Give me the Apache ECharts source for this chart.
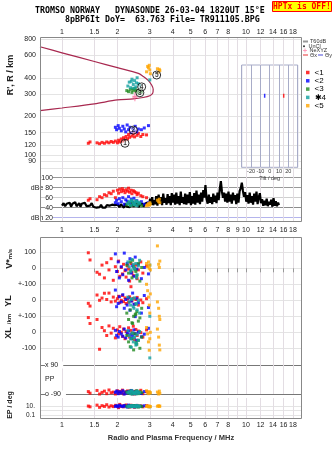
<!DOCTYPE html>
<html><head><meta charset="utf-8">
<script src="https://cdn.jsdelivr.net/npm/echarts@6/dist/echarts.min.js"></script>
<style>html,body{margin:0;padding:0;background:#fff}#c{width:335px;height:451px}</style>
</head><body><div id="c"></div><script>
// ---------- axes / ticks ----------
const FMIN = 0.7593, FMAX = 20.15;
const freqTicks = [1,1.5,2,3,4,5,6,7,8,9,10,12,14,16,18];
const freqLabelsTop = [1,1.5,2,3,4,5,6,7,8,10,12,14,16,18];
const freqLabelsMid = [1,1.5,2,3,4,5,6,7,8,9,10,12,14,16,18];
const freqLabelsBottom = [1,1.5,2,3,4,5,6,7,8,10,12,14,16,18];
const heightTicks = [80,90,100,120,150,200,300,400,600,800];
const dbTicks = [20,40,60,80,100];
const dbTickLabels = ['dBn 20','40','60','dBe 80','100'];
const classNames = ['<1','<2','<3','\u27314','<5'];
const classColors = ['#ff0000','#0000ff','#208a20','#12a0a0','#ffa500'];

// ---------- model profile (R vs f) ----------
const profFreq = [0.759,1.0,1.5,2.0,2.6,2.76,2.95,3.07,3.13,3.11,3.0,2.76,2.44,2.0,1.5,1.0,0.759];
const profHeight = [697,625,535,479,433,410,380,351,326,303,290,281,274,269,251,233,222];

// ---------- T60dB noise trace ----------
const t60Freq = [
1.00,1.02,1.04,1.06,1.08,1.10,1.12,1.14,1.16,1.18,1.20,1.22,1.24,1.26,1.28,1.30,1.33,1.36,1.39,1.42,1.45,1.48,
1.51,1.54,1.57,1.60,1.63,1.66,1.69,1.72,1.75,1.78,1.81,1.84,1.87,1.90,1.93,
1.97,2.01,2.05,2.09,2.13,2.17,2.21,2.25,2.29,2.33,2.37,2.41,2.45,2.49,2.53,2.57,2.61,2.65,2.69,2.73,2.77,2.81,2.85,2.89,
2.93,2.97,3.01,3.05,3.09,3.13,3.17,3.21,3.25,3.30,3.35,3.40,3.45,3.50,3.55,3.60,3.65,3.70,3.75,3.80,3.85,3.90,3.95,4.00,
4.06,4.12,4.18,4.24,4.30,4.36,4.42,4.48,4.54,4.60,4.67,4.74,4.81,4.88,4.95,5.02,5.09,5.16,5.23,5.30,5.38,5.46,5.54,5.62,5.70,5.78,5.86,5.94,6.02,
6.10,6.19,6.28,6.37,6.46,6.55,6.64,6.73,6.82,6.91,7.00,7.10,7.20,7.30,7.40,7.50,7.60,7.70,
7.81,7.92,8.03,8.14,8.25,8.37,8.49,8.61,8.73,8.85,8.97,9.10,9.23,9.36,9.49,9.62,9.75,9.89,10.03,
10.17,10.32,10.47,10.62,10.77,10.92,11.08,11.24,11.40,11.56,11.72,11.89,12.06,
12.23,12.41,12.59,12.77,12.95,13.14,13.33,13.52,13.71,13.91,14.11,14.31,14.52,14.73,14.94,15.10];
const t60Db = [
44,49,43,48,45,50,42,48,44,51,43,47,49,42,48,45,50,43,47,44,49,42,
45,40,44,41,46,40,43,40,45,41,44,40,46,42,45,
42,46,41,47,43,40,48,42,46,41,45,48,42,47,43,49,41,46,43,48,42,47,44,50,
52,44,58,46,61,45,55,47,63,44,66,48,61,45,68,50,59,46,67,49,63,45,69,50,
66,46,70,48,63,45,72,50,61,47,68,46,66,49,71,45,63,48,69,46,74,50,66,47,70,52,75,60,85,
58,48,66,50,61,47,68,52,64,49,70,55,77,93,72,60,70,52,
68,50,72,52,66,48,70,55,65,47,68,50,73,79,90,74,62,71,52,
65,48,70,50,63,46,68,52,72,47,61,69,49,
57,44,54,45,58,43,52,46,56,42,59,44,53,43,50,45];

// ---------- echo class 1 (red) ----------
const c1Freq = [1.39,1.42,1.55,1.6,1.65,1.7,1.75,1.8,1.85,1.9,1.95,2.0,2.03,2.06,2.1,2.13,2.16,2.2,2.23,2.27,2.3,2.33,2.37,2.4,2.44,2.48,2.52,2.56,2.6,2.68,2.75,2.88];
const c1Height = [124,127,125,123,126,124,127,125,128,126,129,125,131,127,134,129,137,132,140,134,145,138,150,141,147,139,152,143,148,140,145,144];
const c1Amp = [55,58,56,62,60,66,64,70,68,73,60,75,69,77,72,78,74,70,76,73,79,71,75,68,74,72,70,66,69,64,62,60];
const c1Vstar = [97,52,-25,-37,20,-60,35,-10,60,-75,10,-20,45,-50,5,-35,25,-15,-55,15,-5,-80,30,-25,-45,0,20,-65,-10,40,-30,15];
const c1YL = [-19,-36,33,0,14,44,5,45,-10,20,-5,10,25,-15,0,30,-8,15,-20,8,-12,22,85,-3,12,-25,5,18,-30,2,-15,10];
const c1XL = [92,55,80,-106,30,10,-20,40,-5,25,-35,15,-10,35,0,-25,20,-40,5,-15,28,-30,12,-8,38,-45,18,-20,8,-2,-30,15];
const c1PP = [-75,-85,-68,-90,-80,-72,-88,-65,-82,-78,-90,-70,-86,-74,-81,-66,-89,-77,-84,-71,-87,-79,-69,-83,-76,-90,-73,-85,-80,-67,-88,-75];
const c1EP = [12,8,20,6,15,10,25,7,14,9,18,11,5,30,10,13,8,16,22,9,12,7,19,10,14,6,11,17,9,13,8,15];

// ---------- echo class 2 (blue) ----------
const c2Freq = [1.95,1.98,2.02,2.05,2.1,2.14,2.18,2.22,2.26,2.3,2.34,2.38,2.42,2.46,2.5,2.55,2.6,2.7,2.8,2.95];
const c2Height = [165,158,170,162,155,168,160,152,172,158,165,150,162,155,168,152,160,158,163,170];
const c2Amp = [50,55,48,58,52,60,47,56,53,62,49,57,51,59,46,54,48,52,47,50];
const c2Vstar = [90,-20,40,-60,10,-40,95,-10,30,-75,60,-30,15,-50,70,-5,25,-65,5,-35];
const c2YL = [64,-40,-20,22,-10,35,-50,5,-30,15,-62,-5,45,-25,-102,10,-15,-80,30,-45];
const c2XL = [12,-19,-30,5,-10,-25,20,-35,-5,8,-15,-40,-22,15,-8,-50,0,-28,-12,25];
const c2PP = [-80,-72,-88,-76,-84,-70,-90,-78,-86,-74,-82,-68,-89,-77,-85,-73,-81,-87,-75,-83];
const c2EP = [10,14,8,18,12,9,16,11,7,20,13,10,15,8,12,17,9,11,14,10];

// ---------- echo class 3 (green) ----------
const c3Freq = [2.25,2.3,2.35,2.4,2.45,2.5,2.55,2.6,2.65,2.71,2.52,2.42];
const c3Height = [318,312,325,308,320,330,315,305,322,310,316,328];
const c3Amp = [46,50,44,52,48,45,51,47,49,44,53,46];
const c3Vstar = [20,-30,40,-60,10,-10,-45,30,-80,5,-20,50];
const c3YL = [-80,-120,-60,-140,-100,-90,-70,-130,-110,-50,-85,-145];
const c3XL = [-20,-60,-90,-40,-110,-10,-75,-50,-100,-30,-65,-5];
const c3PP = [-78,-86,-72,-90,-80,-84,-70,-88,-76,-82,-74,-85];
const c3EP = [11,8,14,9,16,10,12,7,13,9,15,10];

// ---------- echo class 4 (cyan) ----------
const c4Freq = [2.28,2.32,2.36,2.4,2.44,2.48,2.52,2.56,2.6,2.64,2.38,2.46,2.54,3.0];
const c4Height = [345,370,335,390,355,380,340,400,360,350,375,332,365,385];
const c4Amp = [48,52,45,55,50,47,53,44,51,49,54,46,52,48];
const c4Vstar = [40,10,-20,55,25,-5,30,-40,15,50,-10,5,-60,20];
const c4YL = [20,-10,-30,5,-40,15,-20,-60,0,-80,10,-50,-25,-100];
const c4XL = [10,-20,-40,-5,-60,-30,-80,-15,-50,5,-94,-35,-70,-160];
const c4PP = [-82,-76,-88,-70,-84,-78,-90,-74,-86,-80,-72,-87,-77,-83];
const c4EP = [9,12,8,15,10,13,7,11,14,9,12,10,16,8];

// ---------- echo class 5 (orange) ----------
const c5Freq = [2.88,2.92,2.95,2.98,3.0,3.3,3.35,3.38,3.4,3.02];
const c5Height = [445,490,478,500,460,470,440,465,455,430];
const c5Amp = [44,46,48,45,50,55,52,57,50,47];
const c5Vstar = [30,10,40,0,20,140,25,5,45,-10];
const c5YL = [100,60,20,-30,-80,-10,-50,-100,-120,40];
const c5XL = [30,-10,-60,-112,-40,20,-30,-80,-110,0];
const c5PP = [-70,-80,-88,-75,-84,-78,-90,-72,-86,-82];
const c5EP = [10,13,8,12,9,11,14,10,12,9];

// ---------- class markers, NeXYZ, tilt ----------
const markerFreq = [2.2,2.44,2.65,2.71,3.27];
const markerHeight = [124,157,306,340,420];
const markerText = ['1','2','3','4','5'];
const neFreq = [2.49];
const neHeight = [285];
const tiltX = [15];   const tiltXHeight = [290];
const tiltY = [-5.4]; const tiltYHeight = [290];

// ---------- build ----------
function zip(a,b){const n=Math.min(a.length,b.length);const r=[];for(let i=0;i<n;i++)r.push([a[i],b[i]]);return r;}
const classes = [
 {f:c1Freq,h:c1Height,db:c1Amp,v:c1Vstar,yl:c1YL,xl:c1XL,pp:c1PP,ep:c1EP},
 {f:c2Freq,h:c2Height,db:c2Amp,v:c2Vstar,yl:c2YL,xl:c2XL,pp:c2PP,ep:c2EP},
 {f:c3Freq,h:c3Height,db:c3Amp,v:c3Vstar,yl:c3YL,xl:c3XL,pp:c3PP,ep:c3EP},
 {f:c4Freq,h:c4Height,db:c4Amp,v:c4Vstar,yl:c4YL,xl:c4XL,pp:c4PP,ep:c4EP},
 {f:c5Freq,h:c5Height,db:c5Amp,v:c5Vstar,yl:c5YL,xl:c5XL,pp:c5PP,ep:c5EP}
];
const FONT = '"Liberation Sans", Arial, sans-serif';
const VGRID = '#e3dde3';
const HGRID = '#e4e4e4';
const fmtF = v => String(Number((+v).toPrecision(4)));

function fx(grid, extra){
  return Object.assign({
    type:'log', logBase:10, gridIndex:grid, min:FMIN, max:FMAX,
    axisLine:{show:false},
    axisTick:{show:false, customValues:freqTicks},
    axisLabel:{show:false},
    splitLine:{show:true, lineStyle:{color:VGRID, width:1}}
  }, extra);
}
const lbl = (vals, margin) => ({show:true, customValues:vals, margin:margin, fontSize:7, color:'#222', fontFamily:FONT, formatter:fmtF, hideOverlap:false});

const xAxis = [
  fx(0,{position:'top', axisLabel:lbl(freqLabelsTop,1.5)}),
  fx(1,{position:'bottom', axisLabel:lbl(freqLabelsMid,4.5)}),
  {type:'value', gridIndex:2, min:-30, max:30, interval:10,
   axisLine:{show:false}, axisTick:{show:false},
   axisLabel:{fontSize:5.5, margin:1.5, color:'#333', fontFamily:FONT, formatter:v=>(v===-30||v===30)?'':String(v)},
   splitLine:{show:true, lineStyle:{color:'#a8acc8'}},
   name:'Tilt / deg', nameLocation:'middle', nameGap:8, nameTextStyle:{fontSize:5.5, color:'#333', fontFamily:FONT}},
  fx(3,{position:'top', axisTick:{show:true, inside:true, length:4, customValues:freqTicks, lineStyle:{color:'#999'}}}),
  fx(4,{}), fx(5,{}), fx(6,{}),
  fx(7,{position:'bottom', axisLabel:lbl(freqLabelsBottom,3),
    name:'Radio and Plasma Frequency / MHz', nameLocation:'middle', nameGap:15,
    nameTextStyle:{fontSize:7.5, fontWeight:'bold', color:'#333', fontFamily:FONT}})
];

function yv(grid, min, max, ticks, labels, extra){
  const map = {}; ticks.forEach((t,i)=>map[t]=labels[i]);
  return Object.assign({
    type:'value', gridIndex:grid, min:min, max:max,
    axisLine:{show:false},
    axisTick:{show:false, customValues:ticks},
    axisLabel:{customValues:ticks, fontSize:7, margin:4, color:'#222', fontFamily:FONT, hideOverlap:false,
      formatter:v=>{const k=Math.round(v); return map[k]!==undefined?map[k]:'';}},
    splitLine:{show:true, lineStyle:{color:HGRID}}
  }, extra);
}

const yAxis = [
  {type:'log', logBase:10, gridIndex:0, min:76.9, max:829.1,
   axisLine:{show:false}, axisTick:{show:false, customValues:heightTicks},
   axisLabel:{customValues:heightTicks, fontSize:7, margin:4, color:'#222', fontFamily:FONT, hideOverlap:false, formatter:v=>String(Math.round(v))},
   splitLine:{show:true, lineStyle:{color:HGRID}}},
  yv(1, 11.4, 115.4, dbTicks, dbTickLabels, {}),
  {type:'log', logBase:10, gridIndex:2, min:80.7, max:502.4, show:false},
  yv(3, -100, 195.6, [0,100], ['0','100'], {}),
  yv(4, -100, 100, [-100,0,100], ['+-100','0','+-100'], {}),
  yv(5, -204.4, 100, [-100,0,100], ['-100','0',''], {}),
  yv(6, -90, 90, [-90,0,90], ['o -90','PP','x 90'], {}),
  {type:'log', logBase:10, gridIndex:7, min:0.01, max:1000,
   axisLine:{show:false}, axisTick:{show:false, customValues:[0.1,1,10]},
   axisLabel:{customValues:[0.1,1,10], fontSize:6.5, margin:5, color:'#222', fontFamily:FONT, hideOverlap:false,
     formatter:v=>Math.abs(v-10)<1e-6?'10.':(Math.abs(v-0.1)<1e-9?'0.1':'')},
   splitLine:{show:true, lineStyle:{color:HGRID}}}
];
// dB axis: labels inside the frame, right-aligned
Object.assign(yAxis[1].axisLabel, {inside:true, align:'right', margin:13, backgroundColor:'#fff'});
yAxis[1].splitLine.lineStyle = {color:['#b4b4ec','#8c8c8c','#cfcfcf','#999','#999']};
// PP axis: labels inside, dark separators at +-90
Object.assign(yAxis[6].axisLabel, {inside:true, align:'left', margin:5, backgroundColor:'#fff', padding:[0,5,0,0]});
yAxis[6].splitLine.lineStyle = {color:['#777','rgba(0,0,0,0)','#777']};

const series = [];
series.push({type:'line', name:'T60dB', xAxisIndex:1, yAxisIndex:1, data:zip(t60Freq,t60Db),
  symbol:'none', lineStyle:{color:'#000', width:2.2, join:'bevel'}, z:2, silent:true});
series.push({type:'line', name:'profile', xAxisIndex:0, yAxisIndex:0, data:zip(profFreq,profHeight),
  symbol:'none', smooth:0.3, lineStyle:{color:'#a8284f', width:1.2}, z:2, silent:true});
series.push({type:'scatter', name:'UnCl', xAxisIndex:0, yAxisIndex:0, data:[], symbolSize:1, itemStyle:{color:'#000'}});

const panels = [['h',0],['db',1],['v',3],['yl',4],['xl',5],['pp',6],['ep',7]];
classes.forEach((c,ci)=>{
  panels.forEach(([key,ax])=>{
    series.push({type:'scatter', name:classNames[ci], xAxisIndex:ax, yAxisIndex:ax,
      data:zip(c.f,c[key]), symbol:'rect', symbolSize:3, clip:false,
      itemStyle:{color:classColors[ci]}, z:3+ci, silent:true});
  });
});
series.push({type:'scatter', name:'NeXYZ', xAxisIndex:0, yAxisIndex:0, data:zip(neFreq,neHeight),
  symbol:'path://M4,0 L6,0 L6,4 L10,4 L10,6 L6,6 L6,10 L4,10 L4,6 L0,6 L0,4 L4,4 Z', symbolSize:[5,9],
  itemStyle:{color:'#ff6a9a'}, z:9, silent:true});
series.push({type:'scatter', name:'markers', xAxisIndex:0, yAxisIndex:0,
  data:markerFreq.map((f,i)=>({value:[f,markerHeight[i]], label:{formatter:markerText[i]}})),
  symbol:'circle', symbolSize:8, itemStyle:{color:'rgba(255,255,255,0.6)', borderColor:'#000', borderWidth:1},
  label:{show:true, position:'inside', fontSize:6.5, fontWeight:'bold', color:'#000', fontFamily:FONT},
  z:10, silent:true});
series.push({type:'scatter', name:'\u0398x', xAxisIndex:2, yAxisIndex:2, data:zip(tiltX,tiltXHeight),
  symbol:'rect', symbolSize:[1.5,4], itemStyle:{color:'#ff0000'}, z:5, silent:true});
series.push({type:'scatter', name:'\u0398y', xAxisIndex:2, yAxisIndex:2, data:zip(tiltY,tiltYHeight),
  symbol:'rect', symbolSize:[1.5,4], itemStyle:{color:'#0000ff'}, z:5, silent:true});

const smallLegend = (top, data, orient) => ({left:303, top:top, padding:0, orient:orient||'horizontal', selectedMode:false,
  itemWidth:5, itemHeight:2, itemGap:1, textStyle:{fontSize:5.5, color:'#333', fontFamily:FONT, padding:[0,0,0,-3]}, data:data});

const option = {
  animation:false,
  backgroundColor:'#fff',
  textStyle:{fontFamily:FONT},
  title:[
    {text:'TROMSO NORWAY   DYNASONDE 26-03-04 1820UT 15\u00B0E', left:35, top:7, padding:0,
     textStyle:{fontFamily:'"DejaVu Sans Mono", monospace', fontSize:8.3, fontWeight:'bold', color:'#000'}},
    {text:'8pBP6It DoY=  63.763 File= TR911105.BPG', left:65, top:15.5, padding:0,
     textStyle:{fontFamily:'"DejaVu Sans Mono", monospace', fontSize:8.3, fontWeight:'bold', color:'#000'}},
    {text:'HPTx is OFF!', left:272, top:1.5, padding:[1.5,1,0.5,1], backgroundColor:'#ffff00', borderColor:'#ff0000', borderWidth:1,
     textStyle:{fontFamily:'"DejaVu Sans Mono", monospace', fontSize:8, fontWeight:'bold', color:'#ff0000'}}
  ],
  legend:[
    smallLegend(38.5, [{name:'T60dB', icon:'rect', itemStyle:{color:'#999'}}]),
    smallLegend(43.3, [{name:'UnCl', icon:'circle', itemStyle:{color:'#000'}}]),
    Object.assign(smallLegend(47.6, [{name:'NeXYZ', icon:'path://M4,0 L6,0 L6,4 L10,4 L10,6 L6,6 L6,10 L4,10 L4,6 L0,6 L0,4 L4,4 Z', itemStyle:{color:'#ff6a9a'}}]), {itemHeight:4}),
    smallLegend(52, [{name:'\u0398x', icon:'rect', itemStyle:{color:'#f08080'}}, {name:'\u0398y', icon:'rect', itemStyle:{color:'#8c8ce6'}}]),
    {left:306, top:68.5, padding:0, orient:'vertical', selectedMode:false, itemWidth:3.5, itemHeight:3.5, itemGap:0.3,
     textStyle:{fontSize:8, lineHeight:8, color:'#000', fontFamily:FONT},
     data:classNames.map((n,i)=>({name:n, icon:'rect', itemStyle:{color:classColors[i]}}))}
  ],
  grid:[
    {left:40, top:37, width:262, height:133, outerBoundsMode:'none'},
    {left:40, top:170, width:262, height:52, outerBoundsMode:'none'},
    {left:241.7, top:65, width:56, height:102.3, show:true, borderColor:'#a8acc8', borderWidth:1, backgroundColor:'rgba(0,0,0,0)', outerBoundsMode:'none'},
    {left:40, top:237, width:262, height:47.3, outerBoundsMode:'none'},
    {left:40, top:284.3, width:262, height:32, outerBoundsMode:'none'},
    {left:40, top:316.3, width:262, height:48.7, outerBoundsMode:'none'},
    {left:40, top:365, width:262, height:29, outerBoundsMode:'none'},
    {left:40, top:398, width:262, height:21, outerBoundsMode:'none'}
  ],
  xAxis:xAxis,
  yAxis:yAxis,
  series:series,
  graphic:[
    {type:'rect', silent:true, z:100, shape:{x:40.5, y:37.5, width:261, height:184}, style:{fill:'none', stroke:'#888', lineWidth:1}},
    {type:'rect', silent:true, z:100, shape:{x:40.5, y:237.5, width:261, height:181}, style:{fill:'none', stroke:'#888', lineWidth:1}},
    {type:'text', silent:true, x:11, y:75, rotation:Math.PI/2, style:{text:"R', R / km", font:'bold 9px "Liberation Sans"', fill:'#222', align:'center', verticalAlign:'middle'}},
    {type:'text', silent:true, x:10, y:264, rotation:Math.PI/2, style:{text:'V*', font:'bold 9px "Liberation Sans"', fill:'#222', align:'center', verticalAlign:'middle'}},
    {type:'text', silent:true, x:10, y:254, rotation:Math.PI/2, style:{text:'m/s', font:'bold 6px "Liberation Sans"', fill:'#222', align:'center', verticalAlign:'middle'}},
    {type:'text', silent:true, x:9, y:301, rotation:Math.PI/2, style:{text:'YL', font:'bold 9px "Liberation Sans"', fill:'#222', align:'center', verticalAlign:'middle'}},
    {type:'text', silent:true, x:9, y:319, rotation:Math.PI/2, style:{text:'/km', font:'bold 6px "Liberation Sans"', fill:'#222', align:'center', verticalAlign:'middle'}},
    {type:'text', silent:true, x:9, y:333, rotation:Math.PI/2, style:{text:'XL', font:'bold 9px "Liberation Sans"', fill:'#222', align:'center', verticalAlign:'middle'}},
    {type:'text', silent:true, x:10, y:405, rotation:Math.PI/2, style:{text:'EP / deg', font:'bold 7px "Liberation Sans"', fill:'#222', align:'center', verticalAlign:'middle'}}
  ]
};
const chart = echarts.init(document.getElementById('c'), null, {renderer:'canvas'});
chart.setOption(option);
</script></body></html>
